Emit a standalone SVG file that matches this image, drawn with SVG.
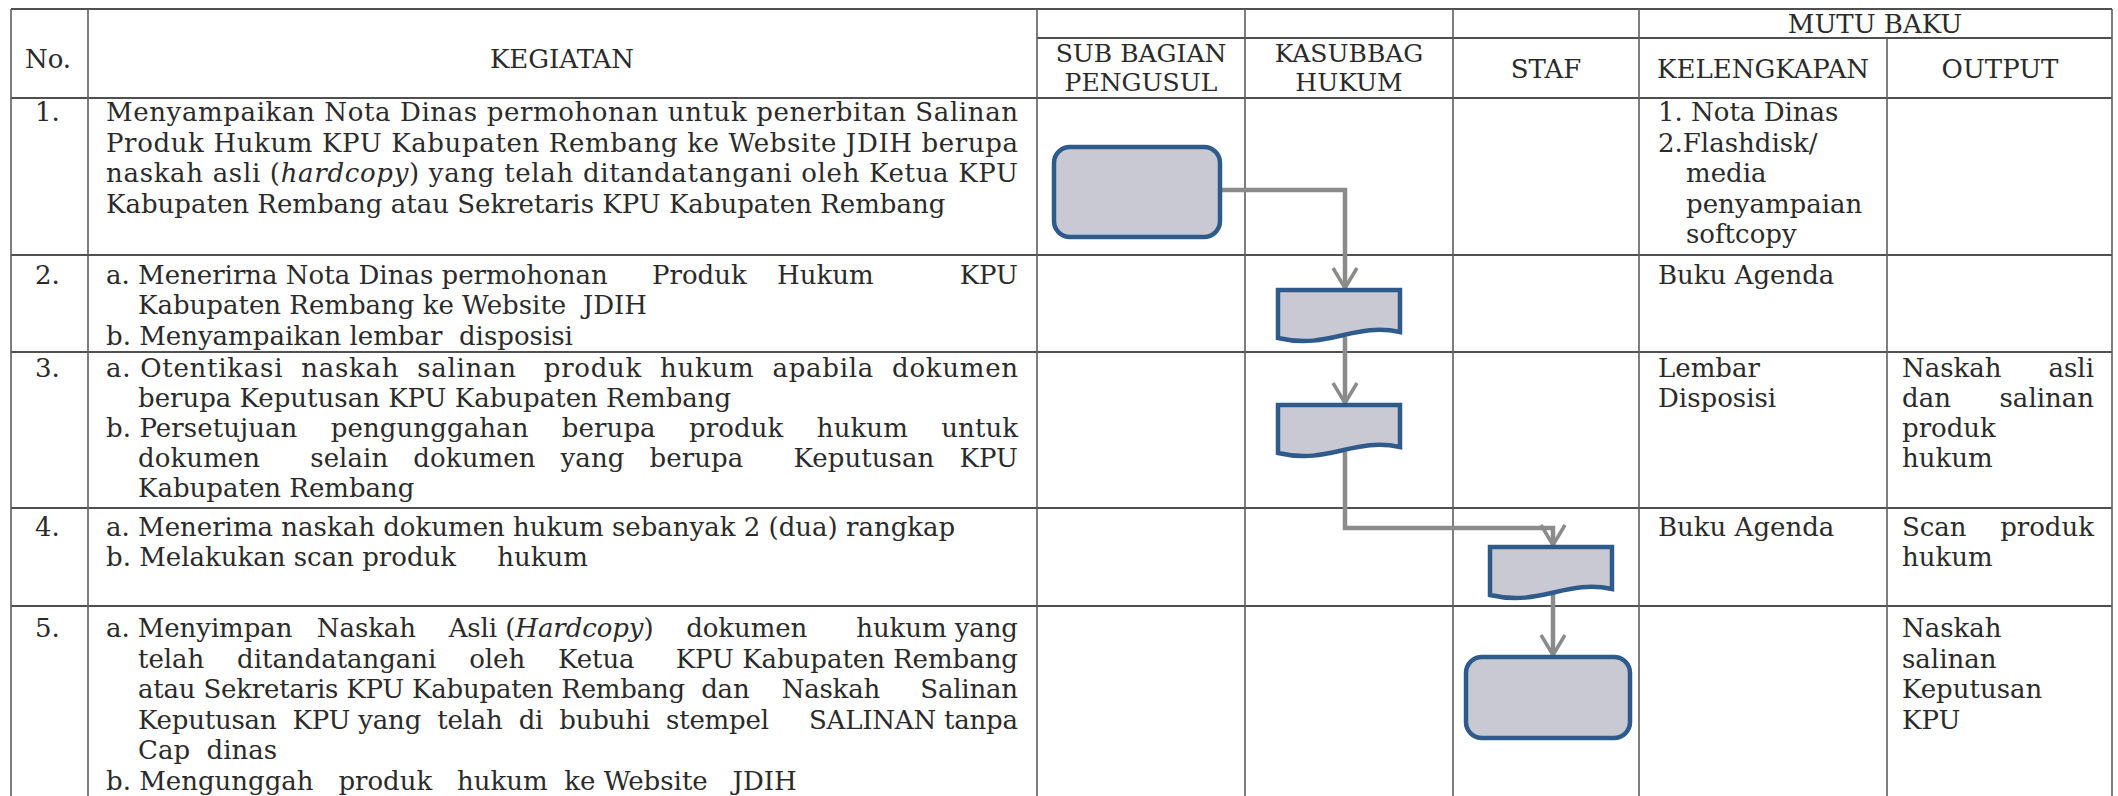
<svg xmlns="http://www.w3.org/2000/svg" width="2118" height="796" viewBox="0 0 2118 796">
<defs>
<style>
.grid{stroke:#5e5e5e;stroke-width:1.6;fill:none}
.gridh{stroke:#505050;stroke-width:2;fill:none}
.t{font-family:"DejaVu Serif","Liberation Serif",serif;font-size:26px;fill:#2a2a2a;white-space:pre}
.s{font-size:25px}
.h{text-anchor:middle}
.e{text-anchor:end}
.i{font-style:italic}
.proc{fill:#c9c9d3;stroke:#2f5b8c;stroke-width:4.5}
.conn{fill:none;stroke:#8b8b8b;stroke-width:4.5}
</style>
<marker id="arr" markerUnits="userSpaceOnUse" markerWidth="32" markerHeight="32" viewBox="-26 -16 32 32" refX="0" refY="0" orient="auto">
<path d="M-20,-12 L0,0 L-20,12" fill="none" stroke="#8b8b8b" stroke-width="3.5"/>
</marker>
</defs>
<rect width="2118" height="796" fill="#ffffff"/>
<g id="table">
<path class="gridh" d="M11,9 H2112 M1037,38 H2112 M11,98 H2112 M11,255 H2112 M11,352 H2112 M11,508 H2112 M11,606 H2112"/>
<path class="grid" d="M11,9 V796 M88,9 V796 M1037,9 V796 M1245,9 V796 M1453,9 V796 M1639,9 V796 M1887,38 V796 M2112,9 V796"/>
</g>
<g id="header">
<text class="t h" x="48" y="68">No.</text>
<text class="t h" x="562" y="68">KEGIATAN</text>
<text class="t h" x="1875" y="33">MUTU BAKU</text>
<text class="t s h" x="1141" y="62">SUB BAGIAN</text>
<text class="t s h" x="1141" y="91">PENGUSUL</text>
<text class="t s h" x="1349" y="62">KASUBBAG</text>
<text class="t s h" x="1349" y="91">HUKUM</text>
<text class="t h" x="1546" y="78">STAF</text>
<text class="t h" x="1763" y="78">KELENGKAPAN</text>
<text class="t h" x="2000" y="78">OUTPUT</text>
</g>
<g id="connectors">
<path class="conn" d="M1220,190 H1345 V288" marker-end="url(#arr)"/>
<path class="conn" d="M1345,337 V403" marker-end="url(#arr)"/>
<path class="conn" d="M1345,452 V528 H1553 V545" marker-end="url(#arr)"/>
<path class="conn" d="M1553,593 V655" marker-end="url(#arr)"/>
</g>
<g id="node-start">
<rect class="proc" x="1054" y="147" width="166" height="90" rx="16"/>
</g>
<g id="node-doc1">
<path class="proc" d="M1278,290 H1400 V332 C1353.6,322 1329.2,350 1278,338 Z"/>
</g>
<g id="node-doc2">
<path class="proc" d="M1278,405 H1400 V447 C1353.6,437 1329.2,465 1278,453 Z"/>
</g>
<g id="node-doc3">
<path class="proc" d="M1490,547 H1612 V589 C1565.6,579 1541.2,607 1490,595 Z"/>
</g>
<g id="node-end">
<rect class="proc" x="1466" y="657" width="164" height="81" rx="16"/>
</g>
<g id="row1">
<text class="t" x="35" y="121">1.</text>
<text class="t" x="106" y="121" textLength="912" lengthAdjust="spacing">Menyampaikan Nota Dinas permohonan untuk penerbitan Salinan</text>
<text class="t" x="106" y="152" textLength="912" lengthAdjust="spacing">Produk Hukum KPU Kabupaten Rembang ke Website JDIH berupa</text>
<text class="t" x="106" y="182" textLength="912" lengthAdjust="spacing">naskah asli (<tspan class="i">hardcopy</tspan>) yang telah ditandatangani oleh Ketua KPU</text>
<text class="t" x="106" y="213">Kabupaten Rembang atau Sekretaris KPU Kabupaten Rembang</text>
<text class="t" x="1658" y="121">1. Nota Dinas</text>
<text class="t" x="1658" y="152">2.Flashdisk/</text>
<text class="t" x="1686" y="182">media</text>
<text class="t" x="1686" y="213">penyampaian</text>
<text class="t" x="1686" y="243">softcopy</text>
</g>
<g id="row2">
<text class="t" x="35" y="284">2.</text>
<text class="t" x="106" y="284">a. Menerirna Nota Dinas permohonan</text>
<text class="t" x="652" y="284">Produk</text>
<text class="t" x="777" y="284">Hukum</text>
<text class="t e" x="1018" y="284">KPU</text>
<text class="t" x="138" y="314">Kabupaten Rembang ke Website  JDIH</text>
<text class="t" x="106" y="345">b. Menyampaikan lembar  disposisi</text>
<text class="t" x="1658" y="284">Buku Agenda</text>
</g>
<g id="row3">
<text class="t" x="35" y="377">3.</text>
<text class="t" x="106" y="377" textLength="912" lengthAdjust="spacing">a. Otentikasi  naskah  salinan   produk  hukum  apabila  dokumen</text>
<text class="t" x="138" y="407">berupa Keputusan KPU Kabupaten Rembang</text>
<text class="t" x="106" y="437" textLength="912" lengthAdjust="spacing">b. Persetujuan    pengunggahan    berupa    produk    hukum    untuk</text>
<text class="t" x="138" y="467" textLength="880" lengthAdjust="spacing">dokumen      selain   dokumen   yang   berupa      Keputusan   KPU</text>
<text class="t" x="138" y="497">Kabupaten Rembang</text>
<text class="t" x="1658" y="377">Lembar</text>
<text class="t" x="1658" y="407">Disposisi</text>
<text class="t" x="1902" y="377">Naskah</text>
<text class="t e" x="2094" y="377">asli</text>
<text class="t" x="1902" y="407">dan</text>
<text class="t e" x="2094" y="407">salinan</text>
<text class="t" x="1902" y="437">produk</text>
<text class="t" x="1902" y="467">hukum</text>
</g>
<g id="row4">
<text class="t" x="35" y="536">4.</text>
<text class="t" x="106" y="536">a. Menerima naskah dokumen hukum sebanyak 2 (dua) rangkap</text>
<text class="t" x="106" y="566">b. Melakukan scan produk     hukum</text>
<text class="t" x="1658" y="536">Buku Agenda</text>
<text class="t" x="1902" y="536">Scan</text>
<text class="t e" x="2094" y="536">produk</text>
<text class="t" x="1902" y="566">hukum</text>
</g>
<g id="row5">
<text class="t" x="35" y="637">5.</text>
<text class="t" x="106" y="637" textLength="912" lengthAdjust="spacing">a. Menyimpan   Naskah    Asli (<tspan class="i">Hardcopy</tspan>)    dokumen      hukum yang</text>
<text class="t" x="138" y="668" textLength="880" lengthAdjust="spacing">telah    ditandatangani    oleh    Ketua     KPU Kabupaten Rembang</text>
<text class="t" x="138" y="698" textLength="880" lengthAdjust="spacing">atau Sekretaris KPU Kabupaten Rembang  dan    Naskah     Salinan</text>
<text class="t" x="138" y="729" textLength="880" lengthAdjust="spacing">Keputusan  KPU yang  telah  di  bubuhi  stempel     SALINAN tanpa</text>
<text class="t" x="138" y="759">Cap  dinas</text>
<text class="t" x="106" y="790">b. Mengunggah   produk   hukum  ke Website   JDIH</text>
<text class="t" x="1902" y="637">Naskah</text>
<text class="t" x="1902" y="668">salinan</text>
<text class="t" x="1902" y="698">Keputusan</text>
<text class="t" x="1902" y="729">KPU</text>
</g>
</svg>
